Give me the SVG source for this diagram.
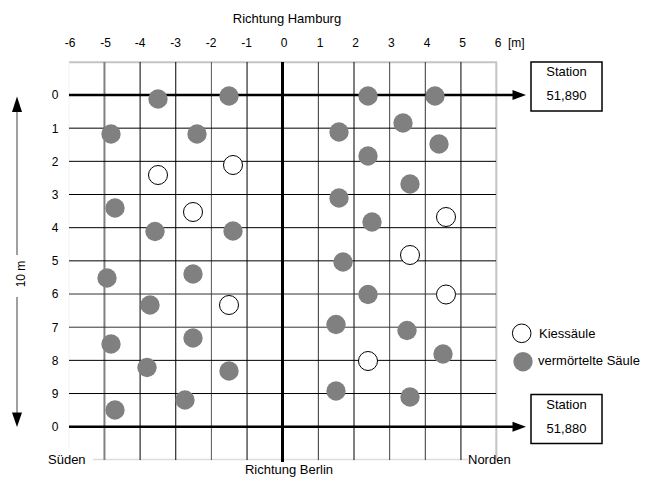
<svg xmlns="http://www.w3.org/2000/svg" width="653" height="477" viewBox="0 0 653 477">
<style>
text{font-family:"Liberation Sans",Arial,sans-serif;fill:#000}
.ax{font-size:12px;text-anchor:middle}
.lb{font-size:13px}
.g{stroke:#000;stroke-width:1;fill:none}
.f{fill:#808080}
.o{fill:#fff;stroke:#000;stroke-width:1}
</style>
<defs>
<circle id="fc" r="9.7" class="f"/>
<circle id="oc" r="9.5" class="o"/>
</defs>
<rect width="653" height="477" fill="#fff"/>
<g id="grid">
<line x1="69" y1="62.3" x2="497" y2="62.3" stroke="#c4c4c4" stroke-width="2"/>
<line x1="496.3" y1="62" x2="496.3" y2="460" stroke="#c4c4c4" stroke-width="2"/>
<line x1="69" y1="62" x2="69" y2="448" stroke="#f2f2f2" stroke-width="1"/>
<line x1="93" y1="459.5" x2="468" y2="459.5" stroke="#dcdcdc" stroke-width="1.5"/>
<g class="g">
<line x1="104.45" y1="62" x2="104.45" y2="460" stroke="#808080" stroke-width="2"/>
<line x1="140.1" y1="62" x2="140.1" y2="460"/>
<line x1="175.75" y1="62" x2="175.75" y2="460"/>
<line x1="211.4" y1="62" x2="211.4" y2="460" stroke="#555"/>
<line x1="247.05" y1="62" x2="247.05" y2="460"/>
<line x1="318.35" y1="62" x2="318.35" y2="460" stroke="#333"/>
<line x1="354" y1="62" x2="354" y2="460"/>
<line x1="389.65" y1="62" x2="389.65" y2="460" stroke="#444"/>
<line x1="425.3" y1="62" x2="425.3" y2="460" stroke="#333"/>
<line x1="460.95" y1="62" x2="460.95" y2="460"/>
<line x1="69" y1="128.17" x2="496" y2="128.17"/>
<line x1="69" y1="161.34" x2="496" y2="161.34"/>
<line x1="69" y1="194.51" x2="496" y2="194.51"/>
<line x1="69" y1="227.68" x2="496" y2="227.68"/>
<line x1="69" y1="260.85" x2="496" y2="260.85"/>
<line x1="69" y1="294.02" x2="496" y2="294.02" stroke="#333"/>
<line x1="69" y1="327.19" x2="496" y2="327.19" stroke="#333"/>
<line x1="69" y1="360.36" x2="496" y2="360.36"/>
<line x1="69" y1="393.53" x2="496" y2="393.53"/>
</g>
<line x1="282.5" y1="62" x2="282.5" y2="462" stroke="#000" stroke-width="3"/>
</g>
<g id="axis-labels">
<text class="lb" x="287" y="23" text-anchor="middle">Richtung Hamburg</text>
<text class="ax" x="70" y="47">-6</text>
<text class="ax" x="105.5" y="47">-5</text>
<text class="ax" x="140" y="47">-4</text>
<text class="ax" x="175.5" y="47">-3</text>
<text class="ax" x="211" y="47">-2</text>
<text class="ax" x="246.5" y="47">-1</text>
<text class="ax" x="284.2" y="47">0</text>
<text class="ax" x="320" y="47">1</text>
<text class="ax" x="355.7" y="47">2</text>
<text class="ax" x="391.3" y="47">3</text>
<text class="ax" x="427" y="47">4</text>
<text class="ax" x="462.6" y="47">5</text>
<text class="ax" x="498" y="47">6</text>
<text class="ax" x="508" y="47" style="text-anchor:start">[m]</text>
<text class="ax" x="55" y="99.3">0</text>
<text class="ax" x="55" y="132.5">1</text>
<text class="ax" x="55" y="165.6">2</text>
<text class="ax" x="55" y="198.8">3</text>
<text class="ax" x="55" y="232">4</text>
<text class="ax" x="55" y="265.1">5</text>
<text class="ax" x="55" y="298.3">6</text>
<text class="ax" x="55" y="331.5">7</text>
<text class="ax" x="55" y="364.6">8</text>
<text class="ax" x="55" y="397.8">9</text>
<text class="ax" x="55" y="431">0</text>
<text class="lb" x="48" y="463.5">Süden</text>
<text class="lb" x="468" y="463.5">Norden</text>
<text class="lb" x="289" y="473.5" text-anchor="middle">Richtung Berlin</text>
<text class="ax" transform="translate(24.5,274) rotate(-90)">10 m</text>
</g>
<g id="connectors">
<line x1="69" y1="95" x2="514" y2="95" stroke="#000" stroke-width="2.5"/>
<polygon points="512.5,90 526,95 512.5,100" fill="#000"/>
<line x1="69" y1="426.7" x2="514" y2="426.7" stroke="#000" stroke-width="2.5"/>
<polygon points="512.5,421.7 526,426.7 512.5,431.7" fill="#000"/>
<line x1="17" y1="110" x2="17" y2="255" stroke="#808080" stroke-width="1.5"/>
<polygon points="17,96.5 12,112 22,112" fill="#000"/>
<line x1="17" y1="297" x2="17" y2="414" stroke="#808080" stroke-width="1.5"/>
<polygon points="12,412.5 22,412.5 17,427" fill="#000"/>
</g>
<g id="columns">
<use href="#fc" x="158" y="99"/>
<use href="#fc" x="229" y="96"/>
<use href="#fc" x="368" y="96"/>
<use href="#fc" x="435" y="96"/>
<use href="#fc" x="111" y="134"/>
<use href="#fc" x="197" y="134"/>
<use href="#fc" x="339" y="132"/>
<use href="#fc" x="403" y="123"/>
<use href="#fc" x="439" y="144"/>
<use href="#fc" x="368" y="156"/>
<use href="#fc" x="410" y="184"/>
<use href="#fc" x="115" y="208"/>
<use href="#fc" x="339" y="198"/>
<use href="#fc" x="155" y="231.5"/>
<use href="#fc" x="233" y="231"/>
<use href="#fc" x="372" y="222"/>
<use href="#fc" x="343" y="262"/>
<use href="#fc" x="107" y="278"/>
<use href="#fc" x="193" y="274"/>
<use href="#fc" x="150" y="305"/>
<use href="#fc" x="368" y="294.5"/>
<use href="#fc" x="336" y="324.5"/>
<use href="#fc" x="407" y="330.5"/>
<use href="#fc" x="193" y="338"/>
<use href="#fc" x="111" y="344"/>
<use href="#fc" x="443" y="354"/>
<use href="#fc" x="147" y="367.5"/>
<use href="#fc" x="229" y="371"/>
<use href="#fc" x="336" y="391"/>
<use href="#fc" x="185" y="400"/>
<use href="#fc" x="410" y="397"/>
<use href="#fc" x="115" y="410"/>
<use href="#oc" x="233" y="165"/>
<use href="#oc" x="158" y="175"/>
<use href="#oc" x="193" y="212"/>
<use href="#oc" x="446" y="217"/>
<use href="#oc" x="410" y="255"/>
<use href="#oc" x="229" y="305"/>
<use href="#oc" x="446" y="294.5"/>
<use href="#oc" x="368" y="361"/>
</g>
<g id="station-51890">
<rect x="531" y="62" width="71" height="49" fill="#fff" stroke="#000" stroke-width="1.5"/>
<text class="lb" x="566.5" y="76" text-anchor="middle">Station</text>
<text class="lb" x="566.5" y="100" text-anchor="middle">51,890</text>
</g>
<g id="station-51880">
<rect x="531" y="394.5" width="71" height="49" fill="#fff" stroke="#000" stroke-width="1.5"/>
<text class="lb" x="566.5" y="408.5" text-anchor="middle">Station</text>
<text class="lb" x="566.5" y="432.5" text-anchor="middle">51,880</text>
</g>
<g id="legend">
<circle cx="521.7" cy="333.3" r="9.3" class="o"/>
<text class="lb" x="539" y="337.5">Kiessäule</text>
<circle cx="523" cy="361.7" r="9.7" class="f"/>
<text class="lb" x="538" y="364.5">vermörtelte Säule</text>
</g>
</svg>
